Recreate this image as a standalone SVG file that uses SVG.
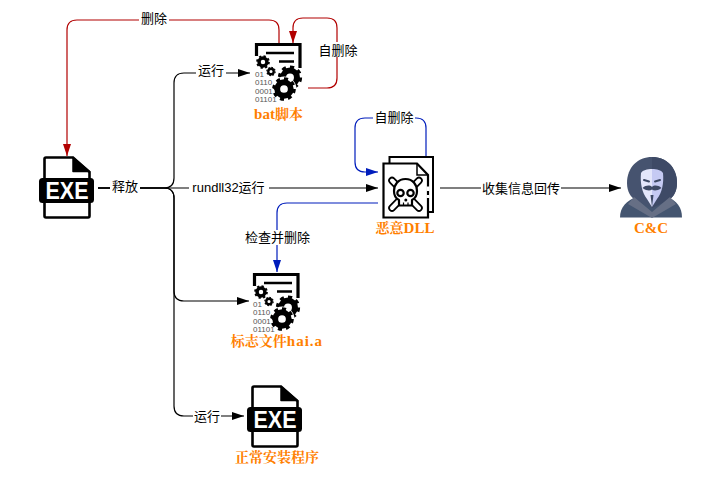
<svg xmlns="http://www.w3.org/2000/svg" xmlns:xlink="http://www.w3.org/1999/xlink" width="709" height="484" viewBox="0 0 709 484">
  <style>
    .edge { fill: none; stroke-width: 1.2; }
    .k { stroke: #000; }
    .r { stroke: #b20000; }
    .b { stroke: #001dbc; }
    .lab { font: 13px "Liberation Sans", "Noto Sans CJK SC", sans-serif; fill: #000; text-anchor: middle; }
    .cap { font: bold 15px "Liberation Serif", "Noto Serif CJK SC", "Noto Sans CJK SC", serif; fill: #ff8000; text-anchor: middle; }
    .han { font-size: 14px; }
    .exe { font: bold 23px "Liberation Sans", sans-serif; fill: #fff; }
    .bin { font: 8px "Liberation Sans", sans-serif; fill: #555; }
    .bg { fill: #fff; }
  </style>
  <defs>
    <marker id="ak" markerUnits="userSpaceOnUse" markerWidth="12" markerHeight="8" refX="12" refY="4" orient="auto"><path d="M0 0L12 4L0 8Z" fill="#000"/></marker>
    <marker id="ar" markerUnits="userSpaceOnUse" markerWidth="12" markerHeight="8" refX="12" refY="4" orient="auto"><path d="M0 0L12 4L0 8Z" fill="#b20000"/></marker>
    <marker id="ab" markerUnits="userSpaceOnUse" markerWidth="12" markerHeight="8" refX="12" refY="4" orient="auto"><path d="M0 0L12 4L0 8Z" fill="#001dbc"/></marker>
    <!-- executable file page, drawn at its first position -->
    <g id="exe-file">
      <path d="M46 157.500H73L89.500 172V216A1.500 1.500 0 0 1 88 217.500H46A1.500 1.500 0 0 1 44.500 216V159A1.500 1.500 0 0 1 46 157.500Z" fill="#fff" stroke="#000" stroke-width="2.600"/>
      <path d="M73 157.500V171.500H89.500Z" fill="#000" stroke="#000" stroke-width="1.500" stroke-linejoin="round"/>
      <rect x="39" y="178" width="55" height="25" rx="3.500" fill="#000"/>
    </g>
    <!-- cog wheel of radius 10 round the origin -->
    <g id="cog">
      <circle r="5.800" fill="none" stroke="#000" stroke-width="5"/>
      <circle r="8.800" fill="none" stroke="#000" stroke-width="2.600" pathLength="16" stroke-dasharray="1 1"/>
    </g>
    <!-- script sheet with cog wheels -->
    <g id="script-sheet">
      <path d="M256.500 56V44.500H300V68" fill="none" stroke="#000" stroke-width="3.200"/>
      <path d="M266 53H294M279 61.500H294" fill="none" stroke="#000" stroke-width="2.400"/>
      <use xlink:href="#cog" href="#cog" transform="translate(263 62) scale(.68)"/>
      <use xlink:href="#cog" href="#cog" transform="translate(271 71.500) scale(.47)"/>
      <use xlink:href="#cog" href="#cog" transform="translate(290 77.500) scale(1.200)"/>
      <circle cx="284" cy="89" r="12.500" fill="#fff"/>
      <use xlink:href="#cog" href="#cog" transform="translate(284 89) scale(1.170)"/>
    </g>
  </defs>

  <g id="connectors">
    <path class="edge r" marker-end="url(#ar)" d="M279 43V30Q279 20 269 20H77Q67 20 67 30V156"/>
    <path class="edge r" marker-end="url(#ar)" d="M308 88H327Q337 88 337 78V28Q337 18 327 18H303Q293 18 293 28V43"/>
    <path class="edge k" marker-end="url(#ak)" d="M98 188H164Q174 188 174 178V83Q174 73 184 73H250"/>
    <path class="edge k" marker-end="url(#ak)" d="M98 188H378"/>
    <path class="edge k" marker-end="url(#ak)" d="M98 188H164Q174 188 174 198V291Q174 301 184 301H249"/>
    <path class="edge k" marker-end="url(#ak)" d="M98 188H164Q174 188 174 198V406Q174 416 184 416H244"/>
    <path class="edge k" marker-end="url(#ak)" d="M440 188H621"/>
    <path class="edge b" marker-end="url(#ab)" d="M378 203H287Q277 203 277 213V272"/>
    <path class="edge b" marker-end="url(#ab)" d="M426 156V128Q426 118 416 118H365Q355 118 355 128V162Q355 172 365 172H378"/>

    <rect class="bg" x="139" y="11" width="30" height="15"/>
    <text class="lab" x="154" y="23">删除</text>
    <rect class="bg" x="317" y="42" width="42" height="15"/>
    <text class="lab" x="338" y="54.500">自删除</text>
    <rect class="bg" x="196" y="63" width="30" height="15"/>
    <text class="lab" x="211" y="75">运行</text>
    <rect class="bg" x="110" y="179" width="30" height="15"/>
    <text class="lab" x="125" y="190.500">释放</text>
    <rect class="bg" x="189" y="180" width="80" height="15"/>
    <text class="lab" x="228.500" y="192">rundll32运行</text>
    <rect class="bg" x="373" y="110" width="42" height="15"/>
    <text class="lab" x="394" y="121.500">自删除</text>
    <rect class="bg" x="481" y="180" width="80" height="15"/>
    <text class="lab" x="521" y="192.500">收集信息回传</text>
    <rect class="bg" x="243" y="230" width="68" height="15"/>
    <text class="lab" x="277.500" y="241.500">检查并删除</text>
    <rect class="bg" x="193" y="409" width="28" height="15"/>
    <text class="lab" x="207" y="420.500">运行</text>
  </g>

  <g id="dropper">
    <use xlink:href="#exe-file" href="#exe-file"/>
    <text class="exe" x="45.500" y="198.500" textLength="43" lengthAdjust="spacingAndGlyphs">EXE</text>
  </g>

  <g id="bat-script">
    <use xlink:href="#script-sheet" href="#script-sheet"/>
    <text class="bin" x="255" y="76.500">01</text>
    <text class="bin" x="255" y="85">0110</text>
    <text class="bin" x="255" y="93.500">0001</text>
    <text class="bin" x="255" y="102">01101</text>
    <text class="cap" x="278.500" y="119">bat<tspan class="han">脚本</tspan></text>
  </g>

  <g id="malicious-dll">
    <path d="M389.500 163V157H433V212H428" fill="#fff" stroke="#000" stroke-width="2"/>
    <path d="M383.500 163.500H417L428 175V217.500H383.500Z" fill="#fff" stroke="#000" stroke-width="2.200"/>
    <path d="M417 163.500V175H428" fill="none" stroke="#000" stroke-width="1.500"/>
    <path d="M428 186.500V191M428 195V198" stroke="#fff" stroke-width="3"/>
    <path d="M392 180.500L419 208M419 180.500L392 208" fill="none" stroke="#000" stroke-width="7.500" stroke-linecap="round"/>
    <path d="M392 180.500L419 208M419 180.500L392 208" fill="none" stroke="#fff" stroke-width="4" stroke-linecap="round"/>
    <g fill="#fff" stroke="#000" stroke-width="2.200" stroke-linejoin="round">
      <path d="M405.500 179C398 179 394 185 394 191C394 196 396 198.500 399 200V205.500H412V200C415 198.500 417 196 417 191C417 185 413 179 405.500 179Z"/>
      <circle cx="400.500" cy="193" r="3.200"/>
      <circle cx="410.500" cy="193" r="3.200"/>
    </g>
    <circle cx="405.800" cy="200" r="1.500" fill="#000"/>
    <path d="M403.500 202.500V205.500M408 202.500V205.500" stroke="#000" stroke-width="1.200"/>
    <text class="cap" x="405" y="233"><tspan class="han">恶意</tspan>DLL</text>
  </g>

  <g id="cnc-operator">
    <path d="M620 217.500C620 207 626 201 638 196H666C677 201 682 207 682 217.500Z" fill="#445570"/>
    <path d="M627 183C627 167 638 157 652 157C666 157 677 167 677 183C677 192 673 197 669 200L652 208L635 200C631 197 627 192 627 183Z" fill="#46536f"/>
    <path d="M652 157C666 157 677 167 677 183C677 192 673 197 669 200L652 208Z" fill="#3e4a66"/>
    <path d="M634 197L652 212L670 197L676 204L652 218L628 204Z" fill="#666f85"/>
    <path d="M652 169C647 169 643 170 641 173C640 183 642 193 647 199L652 207Z" fill="#e3e6fb"/>
    <path d="M652 169C657 169 661 170 663 173C664 183 662 193 657 199L652 207Z" fill="#c5caf3"/>
    <path d="M644 180L649 181.500M655 181.500L660 180" stroke="#3e4a66" stroke-width="2" fill="none" stroke-linecap="round"/>
    <path d="M642.500 188C646 185 650 185 652 187C654 185 658 185 661.500 188C657 191 654 191 652 189.500C650 191 647 191 642.500 188Z" fill="#3e4a66"/>
    <path d="M650.500 195H653.500L652 207Z" fill="#3e4a66"/>
    <text class="cap" x="651" y="233">C&amp;C</text>
  </g>

  <g id="marker-file">
    <g transform="translate(-2 230)"><use xlink:href="#script-sheet" href="#script-sheet"/></g>
    <text class="bin" x="253" y="306.500">01</text>
    <text class="bin" x="253" y="315">0110</text>
    <text class="bin" x="253" y="323.500">0001</text>
    <text class="bin" x="253" y="332">01101</text>
    <text class="cap" x="277" y="346"><tspan class="han">标志文件</tspan><tspan letter-spacing="1">hai.a</tspan></text>
  </g>

  <g id="installer">
    <g transform="translate(208 229)"><use xlink:href="#exe-file" href="#exe-file"/></g>
    <text class="exe" x="253.500" y="427.500" textLength="43" lengthAdjust="spacingAndGlyphs">EXE</text>
    <text class="cap han" x="277" y="462">正常安装程序</text>
  </g>
</svg>
